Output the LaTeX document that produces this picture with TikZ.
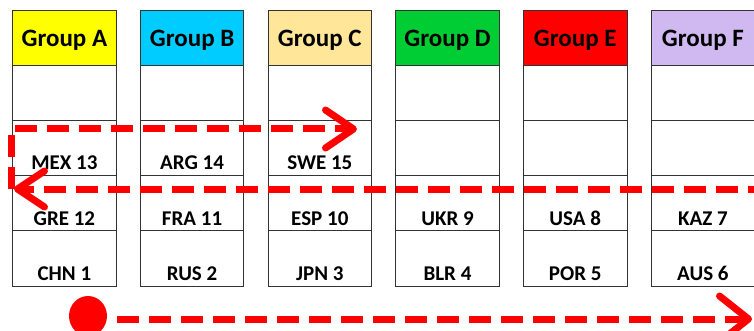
\documentclass[tikz,border=0pt]{standalone}
\usepackage{fontspec}
\setmainfont{Carlito}
\usepackage{tikz}
\usetikzlibrary{arrows.meta}
\definecolor{grpA}{HTML}{FFFF00}
\definecolor{grpB}{HTML}{00CCFF}
\definecolor{grpC}{HTML}{FFE699}
\definecolor{grpD}{HTML}{00CC33}
\definecolor{grpE}{HTML}{FF0000}
\definecolor{grpF}{HTML}{D0B8F0}
\tikzset{
  cell/.style={draw=black!80, line width=0.8pt, minimum width=103.5pt,
    minimum height=55.2pt, inner sep=0pt},
  head/.style={cell, font=\bfseries\fontsize{25}{25}\selectfont},
  team/.style={anchor=base, yshift=6pt, inner sep=0pt,
    font=\bfseries\fontsize{21}{21}\selectfont},
  snake/.style={draw=red, line width=7pt, dash pattern=on 22pt off 10pt},
  dot/.style={ellipse, fill=red, minimum width=38pt, minimum height=40pt, inner sep=0pt}
}
\usetikzlibrary{shapes.geometric}
\def\group#1#2#3#4#5#6#7{
\begin{scope}[shift={(#1,0)}]
    \node[head, fill=#3, text depth=0pt, text height=17pt] (#2h) at (0,37.6) {Group #2};
    \node[cell] (#2a) at (0,92.8) {};
    \node[cell, label={[team]south:#5}] (#2b) at (0,148) {};
    \node[cell, label={[team]south:#6}] (#2c) at (0,203.2) {};
    \node[cell, label={[team]south:#7}] (#2d) at (0,258.4) {};
\end{scope}
}

\begin{document}
\begin{tikzpicture}[x=1pt, y=-1pt]
    \clip (0,0) rectangle (754,331);
    \group{64.4}{A}{grpA}{}{MEX 13}{GRE 12}{CHN 1}
    \group{192.1}{B}{grpB}{}{ARG 14}{FRA 11}{RUS 2}
    \group{319.8}{C}{grpC}{}{SWE 15}{ESP 10}{JPN 3}
    \group{447.5}{D}{grpD}{}{}{UKR 9}{BLR 4}
    \group{575.2}{E}{grpE}{}{}{USA 8}{POR 5}
    \group{702.9}{F}{grpF}{}{}{KAZ 7}{AUS 6}
    \coordinate (backR) at (770,189);
    \coordinate (backL) at (14,189);
    \coordinate (turn) at (11,189);
    \coordinate (corner) at (11,129);
    \coordinate (topend) at (357,129);
    \coordinate (botend) at (752,319);
    \node[dot] (start) at (88,316) {};
    \draw[snake, -{Straight Barb[round, length=27pt, width=36pt]}] (backR) -- (backL);
    \draw[snake, -{Straight Barb[round, length=28pt, width=38pt]}] (turn) -- (corner) -- (topend);
    \draw[snake, -{Straight Barb[round, length=29pt, width=46pt]}] ([xshift=10pt]start.east |- botend) -- (botend);
\end{tikzpicture}
\end{document}
